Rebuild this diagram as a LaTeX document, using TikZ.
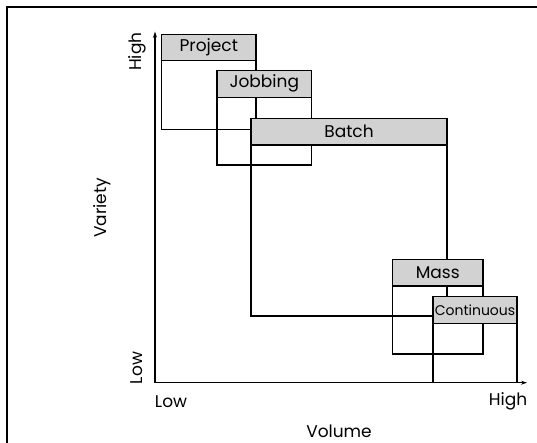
\documentclass[tikz,border=0pt]{standalone}
\usepackage{fontspec}
\setmainfont{Poppins}
\usepackage{tikz}
\usetikzlibrary{positioning,arrows.meta,calc}

\begin{document}
\begin{tikzpicture}[x=1pt,y=-1pt,line width=1.2pt,
  every node/.style={font=\fontsize{17}{19}\selectfont},
  hdr/.style={draw,fill=gray!35,minimum height=26.7pt,inner sep=0pt,outer sep=0pt}]
\useasboundingbox (0,0) rectangle (537,443);
% frame
\draw[line width=2pt] (7,443) -- (7,7) -- (537,7);
% axes
\coordinate (o) at (155,382.7);
\coordinate (ytop) at (155,31.7);
\coordinate (xend) at (527,382.7);
\draw[-{Stealth[length=6pt,width=4pt]}] (o) -- (ytop);
\draw[-{Stealth[length=6pt,width=4pt]}] (o) -- (xend);
% boxes
\node[hdr,minimum width=94.4pt] (proj) at (208.8,47.5) {Project};
\draw (proj.south west) rectangle (proj.east |- 0,129.3);
\node[hdr,minimum width=94.6pt] (job) at (264.3,83.8) {Jobbing};
\draw (job.south west) rectangle (job.east |- 0,165);
\node[hdr,minimum width=196pt] (batch) at (349,131.7) {Batch};
\draw (batch.south west) rectangle (batch.east |- 0,316);
\node[hdr,minimum width=90.5pt] (mass) at (437.75,272.7) {Mass};
\draw (mass.south west) rectangle (mass.east |- 0,354);
\node[hdr,minimum width=84pt] (cont) at (475,310) {\fontsize{14}{16}\selectfont Continuous};
\draw (cont.south west) rectangle (cont.east |- o);
% labels
\node[rotate=90] (yhigh) at (137,51.7) {High};
\node[rotate=90] (ylow) at (137,368) {Low};
\node[rotate=90] (yname) at (102,208) {Variety};
\node (xlow) at (171,401.7) {Low};
\node (xhigh) at (508,401.7) {High};
\node (xname) at (339,431.7) {Volume};
\end{tikzpicture}
\end{document}
